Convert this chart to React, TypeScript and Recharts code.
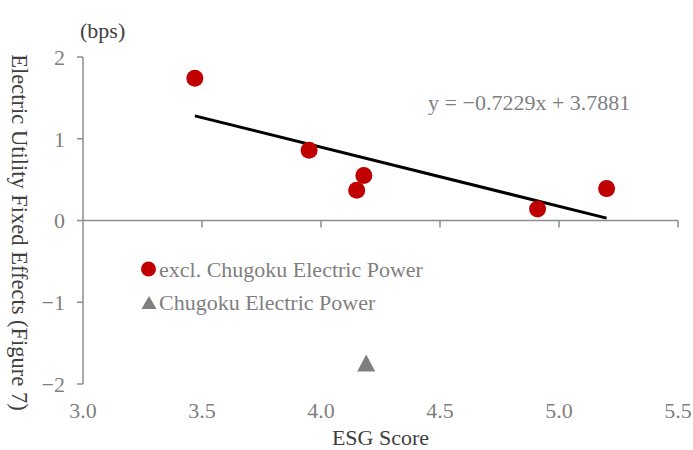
import { ScatterChart, Scatter, XAxis, YAxis, ReferenceLine, ReferenceDot } from 'recharts';

// ESG score vs. electric utility fixed effects (bps)
const exclChugoku = [
  { x: 3.47, y: 1.74 },
  { x: 3.95, y: 0.86 },
  { x: 4.15, y: 0.37 },
  { x: 4.18, y: 0.55 },
  { x: 4.91, y: 0.14 },
  { x: 5.2, y: 0.39 },
];
const chugoku = [{ x: 4.19, y: -1.75 }];

const slope = -0.7229;
const intercept = 3.7881;
const xTicks = [3.0, 3.5, 4.0, 4.5, 5.0, 5.5];
const yTicks = [-2, -1, 0, 1, 2];
const equationLabel = 'y = −0.7229x + 3.7881';
const seriesNames = ['excl. Chugoku Electric Power', 'Chugoku Electric Power'];

const xs = exclChugoku.map((d) => d.x);
const trend = [Math.min(...xs), Math.max(...xs)].map((x) => ({ x, y: slope * x + intercept }));

const FONT = '"Liberation Serif", "DejaVu Serif", serif';
const AXIS = '#8c8c8c';
const TICK_TEXT = '#7f7f7f';
const TITLE_TEXT = '#404040';
const RED = '#c00000';
const GREY = '#7f7f7f';

const RedDot = (props: any) => <circle cx={props.cx} cy={props.cy} r={8.5} fill={RED} />;
const GreyTriangle = (props: any) => {
  const { cx, cy } = props;
  return <polygon points={`${cx},${cy - 9} ${cx - 9},${cy + 8} ${cx + 9},${cy + 8}`} fill={GREY} />;
};

const fmtY = (v: number) => (v < 0 ? `−${-v}` : `${v}`);

// legend drawn as an overlay so it does not shrink the plot area
function LegendBox() {
  return (
    <svg width={340} height={64} style={{ position: 'absolute', left: 136, top: 252, fontFamily: FONT }}>
      <circle cx={12.5} cy={17} r={7.5} fill={RED} />
      <text x={23} y={25} fontSize={22} fill={TICK_TEXT}>{seriesNames[0]}</text>
      <polygon points="13,44 5.5,57 20.5,57" fill={GREY} />
      <text x={23} y={58} fontSize={22} fill={TICK_TEXT}>{seriesNames[1]}</text>
    </svg>
  );
}

function YTitle(props: any) {
  const { viewBox } = props;
  const cx = viewBox.x + 19;
  const cy = viewBox.y + viewBox.height / 2 + 12;
  return (
    <text
      x={cx}
      y={cy}
      transform={`rotate(90 ${cx} ${cy})`}
      textAnchor="middle"
      dominantBaseline="central"
      fontSize={22.5}
      fill={TITLE_TEXT}
      fontFamily={FONT}
    >
      Electric Utility Fixed Effects (Figure 7)
    </text>
  );
}

export default function App() {
  return (
    <div style={{ position: 'absolute', left: 0, top: 0, width: 693, height: 450, background: '#fff', fontFamily: FONT }}>
      <div style={{ position: 'absolute', left: 80, top: 18, fontSize: 22, color: TITLE_TEXT }}>(bps)</div>
      <ScatterChart width={693} height={450} margin={{ top: 57, right: 15, bottom: 0, left: 0 }}>
        <XAxis
          type="number"
          dataKey="x"
          domain={[3, 5.5]}
          ticks={xTicks}
          tickFormatter={(v: number) => v.toFixed(1)}
          axisLine={false}
          tickLine={false}
          tickSize={0}
          tickMargin={18}
          height={66}
          tick={{ fontSize: 22, fill: TICK_TEXT, fontFamily: FONT }}
          label={{ value: 'ESG Score', position: 'insideBottom', offset: 5, fontSize: 22, fill: TITLE_TEXT, fontFamily: FONT }}
          allowDataOverflow
        />
        <YAxis
          type="number"
          dataKey="y"
          domain={[-2, 2]}
          ticks={yTicks}
          tickFormatter={fmtY}
          width={83}
          axisLine={{ stroke: AXIS, strokeWidth: 1.5 }}
          tickLine={{ stroke: AXIS, strokeWidth: 1.5 }}
          tickSize={6}
          tickMargin={12}
          tick={{ fontSize: 22, fill: TICK_TEXT, fontFamily: FONT }}
          label={{ content: YTitle }}
          allowDataOverflow
        />
        <ReferenceLine y={0} stroke={AXIS} strokeWidth={1.5} />
        {xTicks.slice(1).map((t) => (
          <ReferenceLine
            key={t}
            segment={[{ x: t, y: 0 }, { x: t, y: -0.085 }]}
            stroke={AXIS}
            strokeWidth={1.5}
            ifOverflow="visible"
          />
        ))}
        <Scatter
          name="trend"
          data={trend}
          line={{ stroke: '#000', strokeWidth: 3 }}
          shape={() => <g />}
          isAnimationActive={false}
          legendType="none"
        />
        <Scatter name={seriesNames[0]} data={exclChugoku} shape={RedDot} isAnimationActive={false} />
        <Scatter name={seriesNames[1]} data={chugoku} shape={GreyTriangle} isAnimationActive={false} />
        <ReferenceDot
          x={4.45}
          y={1.443}
          r={0}
          fill="none"
          stroke="none"
          ifOverflow="visible"
          label={{ value: equationLabel, position: 'right', offset: 0, fontSize: 22, fill: TICK_TEXT, fontFamily: FONT }}
        />
      </ScatterChart>
      <LegendBox />
    </div>
  );
}
